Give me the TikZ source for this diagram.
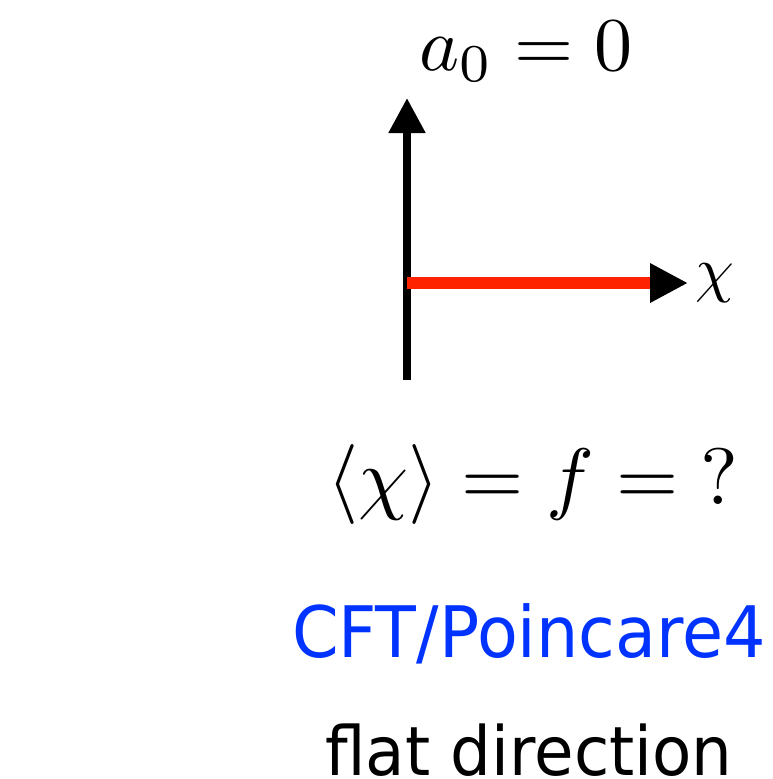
\documentclass[tikz,border=0pt]{standalone}
\usepackage{graphicx}
\usepackage{fontspec}
\setsansfont{DejaVu Sans}
\usetikzlibrary{arrows.meta}
\definecolor{axred}{HTML}{FF2200}
\definecolor{cftblue}{HTML}{0033FF}
\begin{document}
\begin{tikzpicture}[x=1pt,y=-1pt,
  txt/.style={inner sep=0pt,outer sep=0pt,anchor=base},
  axis/.style={line width=8pt,-{Triangle[length=35pt,width=35pt]}}]
\useasboundingbox (0,0) rectangle (772,779);
\coordinate (bot) at (407,380);
\coordinate (top) at (407,98);
\coordinate (o) at (407,283);
\coordinate (xe) at (688,283);
\draw[axis] (bot) -- (top);
\draw[line width=12pt,axred,-{Triangle[color=black,fill=black,length=38pt,width=37pt]}] (o) -- (xe);
\node[txt] (a0) at (526,70) {\scalebox{7.6}{$a_0=0$}};
\node[txt,anchor=base west] (chi) at (695,290) {\scalebox{6.2}{$\chi$}};
\node[txt] (vev) at (533,504) {\scalebox{8}{$\langle\chi\rangle=f={?}$}};
\node[txt,text=cftblue] (cft) at (529,657) {\scalebox{0.94}[1]{\fontsize{71}{76}\selectfont\sffamily CFT/Poincare4}};
\node[txt] (flat) at (529,775) {\scalebox{0.945}[1]{\fontsize{68}{72}\selectfont\sffamily flat direction}};
\end{tikzpicture}
\end{document}
